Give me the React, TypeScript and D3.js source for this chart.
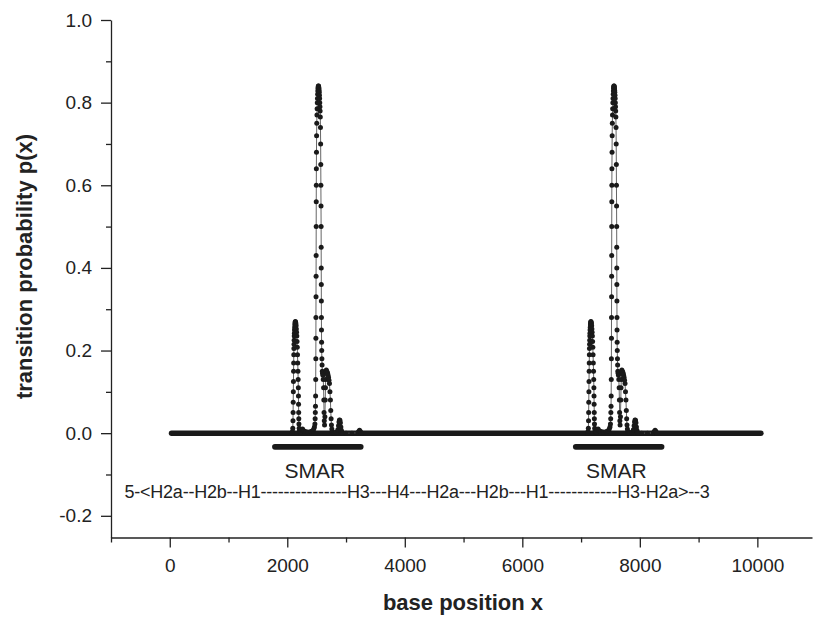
import React, { useEffect, useRef } from "react";
import * as d3 from "d3";

// zero-level run of points along the whole sequence (bases)
const baselineSpan = [30, 10060];

// one repeat of the transition profile (base position, p(x))
const peakX = [
  2080, 2088, 2094, 2097, 2099, 2101, 2103, 2105, 2107, 2109, 2111, 2113, 2115, 2117, 2119, 2121, 2123, 2126,
  2129, 2132, 2135, 2138, 2142, 2146, 2150, 2154, 2158, 2162, 2166, 2170, 2174, 2178, 2182, 2185, 2188, 2190,
  2192, 2194, 2196, 2198, 2202, 2208, 2216, 2226, 2240, 2260, 2280, 2310, 2350, 2400, 2430, 2450, 2462, 2470,
  2474, 2477, 2480, 2482, 2484, 2486, 2487, 2488, 2489, 2490, 2491, 2492, 2493, 2494, 2495, 2497, 2499, 2502,
  2505, 2508, 2511, 2514, 2517, 2520, 2523, 2526, 2529, 2532, 2535, 2538, 2541, 2544, 2547, 2550, 2553, 2556,
  2559, 2562, 2565, 2568, 2570, 2572, 2574, 2576, 2577, 2578, 2579, 2580, 2581, 2582, 2584, 2586, 2589, 2592,
  2596, 2600, 2606, 2612, 2618, 2622, 2626, 2630, 2634, 2640, 2646, 2650, 2654, 2658, 2664, 2670, 2678, 2686,
  2694, 2702, 2710, 2718, 2726, 2734, 2740, 2746, 2752, 2758, 2766, 2778, 2800, 2830, 2860, 2872, 2880, 2888,
  2896, 2904, 2912, 2920, 2928, 2940, 3000, 3100, 3200, 3215, 3230, 3245, 3260,
];
const peakP = [
  0, 0.004, 0.012, 0.03, 0.05, 0.075, 0.1, 0.125, 0.15, 0.17, 0.19, 0.205, 0.215, 0.225, 0.235, 0.242, 0.25, 0.256,
  0.262, 0.266, 0.269, 0.27, 0.268, 0.265, 0.26, 0.252, 0.244, 0.235, 0.222, 0.208, 0.19, 0.17, 0.15, 0.13, 0.11, 0.09,
  0.07, 0.05, 0.035, 0.022, 0.012, 0.006, 0.003, 0.002, 0.008, 0.01, 0.006, 0.004, 0.003, 0.004, 0.006, 0.01, 0.015, 0.022,
  0.035, 0.05, 0.065, 0.09, 0.13, 0.18, 0.23, 0.28, 0.33, 0.38, 0.43, 0.5, 0.56, 0.6, 0.64, 0.68, 0.72, 0.75,
  0.77, 0.785, 0.8, 0.81, 0.82, 0.828, 0.834, 0.838, 0.84, 0.84, 0.838, 0.835, 0.83, 0.825, 0.818, 0.81, 0.8, 0.79,
  0.78, 0.765, 0.74, 0.7, 0.65, 0.6, 0.55, 0.5, 0.45, 0.4, 0.36, 0.32, 0.28, 0.25, 0.22, 0.2, 0.18, 0.165,
  0.15, 0.145, 0.14, 0.13, 0.11, 0.08, 0.05, 0.03, 0.02, 0.04, 0.08, 0.11, 0.13, 0.145, 0.153, 0.15, 0.148, 0.145,
  0.14, 0.135, 0.128, 0.12, 0.1, 0.08, 0.055, 0.035, 0.02, 0.01, 0.004, 0, 0, 0.002, 0.008, 0.018, 0.027, 0.032,
  0.031, 0.025, 0.015, 0.007, 0.002, 0, 0, 0, 0.001, 0.004, 0.007, 0.004, 0,
];
// the sequence is a tandem repeat: offset of each copy
const repeatOffsets = [0, 5030];

// SMAR regions (bases)
const smarStart = [1790, 6910];
const smarEnd = [3250, 8370];
const smarLabelX = [2470, 7600];

const xTicks = [0, 2000, 4000, 6000, 8000, 10000];
const xMinor = [-1000, 1000, 3000, 5000, 7000, 9000];
const yTicks = [-0.2, 0, 0.2, 0.4, 0.6, 0.8, 1.0];
const yMinor = [-0.1, 0.1, 0.3, 0.5, 0.7, 0.9];

const geneMap = "5-<H2a--H2b--H1---------------H3---H4---H2a---H2b---H1------------H3-H2a>--3";

const App = () => {
  const ref = useRef<SVGSVGElement>(null);

  useEffect(() => {
    const width = 814;
    const height = 619;
    const left = 111;
    const right = 812;
    const top = 20;
    const bottom = 537.5;
    const font = "'Liberation Sans', Arial, Helvetica, sans-serif";

    const svg = d3.select(ref.current);
    svg.selectAll("*").remove();
    svg.attr("width", width).attr("height", height).attr("viewBox", [0, 0, width, height]);

    const x = d3.scaleLinear().domain([-1000, 10930]).range([left, right]);
    const y = d3.scaleLinear().domain([-0.2525, 1.0]).range([bottom, top]);

    // axes
    const yAxis = (g) =>
      g
        .attr("transform", `translate(${left},0)`)
        .call(
          d3
            .axisLeft(y)
            .tickValues(yTicks)
            .tickSize(10)
            .tickSizeOuter(0)
            .tickPadding(9)
            .tickFormat((d) => d.toFixed(1))
        )
        .call((g) =>
          g
            .append("g")
            .call(d3.axisLeft(y).tickValues(yMinor).tickSize(5).tickFormat(() => ""))
            .call((g) => g.select(".domain").remove())
        );

    const xAxis = (g) =>
      g
        .attr("transform", `translate(0,${bottom})`)
        .call(
          d3
            .axisBottom(x)
            .tickValues(xTicks)
            .tickSize(10)
            .tickSizeOuter(0)
            .tickPadding(11)
            .tickFormat(d3.format("d"))
        )
        .call((g) =>
          g
            .append("g")
            .call(d3.axisBottom(x).tickValues(xMinor).tickSize(5).tickFormat(() => ""))
            .call((g) => g.select(".domain").remove())
        );

    [svg.append("g").call(yAxis), svg.append("g").call(xAxis)].forEach((g) => {
      g.attr("font-family", font).attr("font-size", 19);
      g.selectAll("text").attr("fill", "#222");
      g.selectAll("line, path").attr("stroke", "#222").attr("stroke-width", 1.3);
    });

    // baseline of points at p = 0
    svg
      .append("line")
      .attr("x1", x(baselineSpan[0]))
      .attr("x2", x(baselineSpan[1]))
      .attr("y1", y(0))
      .attr("y2", y(0))
      .attr("stroke", "#1a1a1a")
      .attr("stroke-width", 5.5)
      .attr("stroke-linecap", "round");

    const line = d3
      .line()
      .x((d) => x(d[0]))
      .y((d) => y(d[1]));

    repeatOffsets.forEach((off) => {
      const pts = peakX.map((px, i) => [px + off, peakP[i]]);
      svg
        .append("path")
        .datum(pts)
        .attr("d", line)
        .attr("fill", "none")
        .attr("stroke", "#666")
        .attr("stroke-width", 1);
      svg
        .append("g")
        .selectAll("circle")
        .data(pts)
        .join("circle")
        .attr("cx", (d) => x(d[0]))
        .attr("cy", (d) => y(d[1]))
        .attr("r", 2.5)
        .attr("fill", "#1a1a1a");
    });

    // SMAR bars and labels
    smarStart.forEach((s, i) => {
      svg
        .append("line")
        .attr("x1", x(s))
        .attr("x2", x(smarEnd[i]))
        .attr("y1", y(-0.033))
        .attr("y2", y(-0.033))
        .attr("stroke", "#1a1a1a")
        .attr("stroke-width", 5.7)
        .attr("stroke-linecap", "round");
      svg
        .append("text")
        .attr("x", x(smarLabelX[i]))
        .attr("y", y(-0.108))
        .attr("text-anchor", "middle")
        .attr("font-family", font)
        .attr("font-size", 21)
        .attr("fill", "#222")
        .text("SMAR");
    });

    svg
      .append("text")
      .attr("x", x(-770))
      .attr("y", y(-0.157))
      .attr("font-family", font)
      .attr("font-size", 18)
      .attr("fill", "#222")
      .attr("textLength", x(9190) - x(-770))
      .attr("lengthAdjust", "spacing")
      .text(geneMap);

    // axis titles
    svg
      .append("text")
      .attr("x", 463)
      .attr("y", 610)
      .attr("text-anchor", "middle")
      .attr("font-family", font)
      .attr("font-size", 22)
      .attr("font-weight", "bold")
      .attr("fill", "#222")
      .text("base position x");

    svg
      .append("text")
      .attr("transform", "translate(32,266.5) rotate(-90)")
      .attr("text-anchor", "middle")
      .attr("font-family", font)
      .attr("font-size", 22)
      .attr("font-weight", "bold")
      .attr("fill", "#222")
      .text("transition probability p(x)");
  }, []);

  return (
    <svg
      ref={ref}
      style={{ position: "absolute", left: 0, top: 0, background: "#fff" }}
    ></svg>
  );
};

export default App;
